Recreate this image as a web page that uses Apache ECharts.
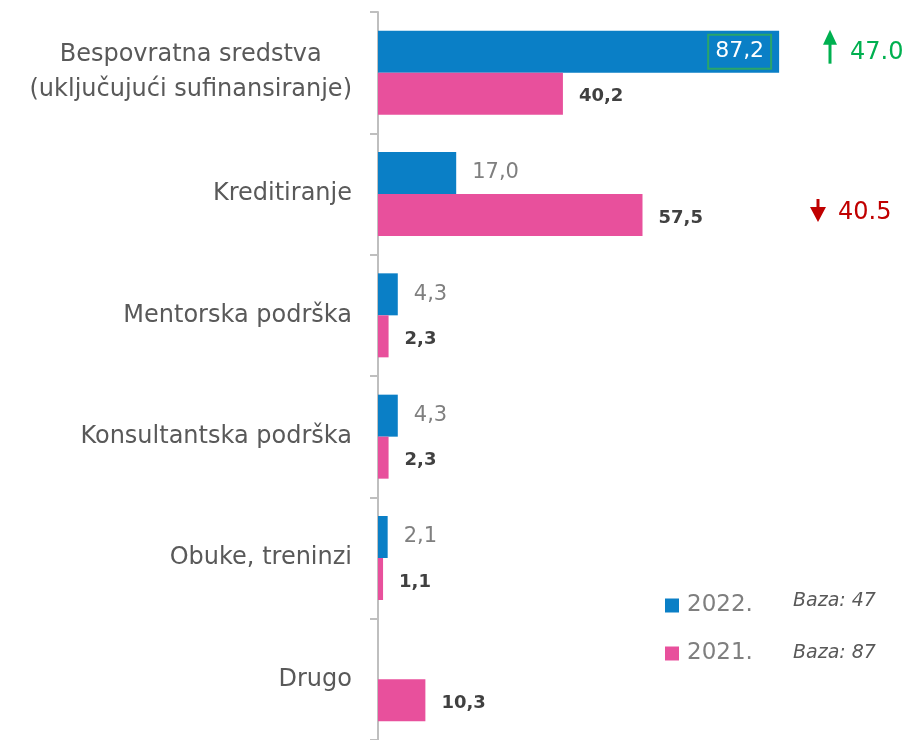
<!DOCTYPE html>
<html>
<head>
<meta charset="utf-8">
<script src="https://cdn.jsdelivr.net/npm/echarts@6/dist/echarts.min.js"></script>
<style>
html, body { margin: 0; padding: 0; background: #fff; }
#chart_con { width: 905px; height: 740px; }
</style>
</head>
<body>
<div id="chart_con"></div>
<script>
// podaci
var categories = ['Bespovratna sredstva\n(uključujući sufinansiranje)', 'Kreditiranje', 'Mentorska podrška',
    'Konsultantska podrška', 'Obuke, treninzi', 'Drugo'];
var values2022 = [87.2, 17.0, 4.3, 4.3, 2.1, null];
var values2021 = [40.2, 57.5, 2.3, 2.3, 1.1, 10.3];
var seriesNames = ['2022.', '2021.'];
var bazaTexts = ['Baza: 47', 'Baza: 87'];
var changes = [
    { cat: 0, text: '47.0', up: true },
    { cat: 1, text: '40.5', up: false }
];

var font = 'DejaVu Sans';
var fmt = function (p) { return p.value == null ? '' : p.value.toFixed(1).replace('.', ','); };

var chart = echarts.init(document.getElementById('chart_con'));

var option = {
    animation: false,
    grid: { left: 378, right: 67, top: 12, bottom: -2, containLabel: false },
    legend: {
        orient: 'vertical',
        left: 660,
        top: 589,
        itemWidth: 14,
        itemHeight: 14,
        itemGap: 25,
        icon: 'rect',
        data: seriesNames,
        textStyle: { fontFamily: font, fontSize: 23, color: '#7f7f7f', padding: [0, 0, 0, 3] }
    },
    xAxis: {
        type: 'value', min: 0, max: 100, show: false
    },
    yAxis: {
        type: 'category',
        inverse: true,
        data: categories,
        axisLine: { show: true, lineStyle: { color: '#bfbfbf', width: 2 } },
        axisTick: { show: true, length: 8, lineStyle: { color: '#bfbfbf', width: 2 } },
        axisLabel: {
            margin: 26,
            fontFamily: font,
            fontSize: 24,
            color: '#595959',
            lineHeight: 35,
            formatter: function (v) {
                return v.split('\n').map(function (s) { return '{c|' + s + '}'; }).join('\n');
            },
            rich: { c: { align: 'center', fontFamily: font, fontSize: 24, color: '#595959', lineHeight: 35 } }
        }
    },
    series: [
        {
            name: seriesNames[0],
            type: 'bar',
            data: values2022.map(function (v, i) {
                if (i === 0) {
                    return {
                        value: v,
                        label: {
                            position: 'insideRight', distance: 8, color: '#fff', fontSize: 22,
                            borderColor: '#2aa56a', borderWidth: 2, padding: [7, 7, 5, 7]
                        }
                    };
                }
                return v;
            }),
            barWidth: 42,
            barGap: '0%',
            itemStyle: { color: '#0a7fc6' },
            label: {
                show: true, position: 'right', distance: 16,
                fontFamily: font, fontSize: 21, color: '#7f7f7f',
                formatter: fmt
            }
        },
        {
            name: seriesNames[1],
            type: 'bar',
            data: values2021,
            barWidth: 42,
            barGap: '0%',
            itemStyle: { color: '#e8509c' },
            label: {
                show: true, position: 'right', distance: 16, offset: [0, 3],
                fontFamily: font, fontSize: 18, fontWeight: 'bold', color: '#404040',
                formatter: fmt
            }
        }
    ]
};
chart.setOption(option);

// strelice i baza tekstovi
var graphics = [];
changes.forEach(function (c) {
    var yc = chart.convertToPixel({ yAxisIndex: 0 }, c.cat);
    var color = c.up ? '#00b050' : '#c00000';
    var ax = c.up ? 830 : 818;
    var ty;
    if (c.up) {
        graphics.push({ type: 'rect', shape: { x: ax - 1.5, y: yc - 30, width: 3, height: 21 }, style: { fill: color } });
        graphics.push({ type: 'polygon', shape: { points: [[ax - 7, yc - 28], [ax + 7, yc - 28], [ax, yc - 43]] }, style: { fill: color } });
        ty = yc - 20;
    } else {
        graphics.push({ type: 'rect', shape: { x: ax - 1.5, y: yc + 5, width: 3, height: 10 }, style: { fill: color } });
        graphics.push({ type: 'polygon', shape: { points: [[ax - 8, yc + 13], [ax + 8, yc + 13], [ax, yc + 28]] }, style: { fill: color } });
        ty = yc + 19;
    }
    graphics.push({
        type: 'text', x: ax + 20, y: ty,
        style: { text: c.text, fill: color, font: '24px "' + font + '"', verticalAlign: 'middle' }
    });
});
bazaTexts.forEach(function (t, i) {
    graphics.push({
        type: 'text', x: 793, y: 601 + i * 52,
        style: { text: t, fill: '#595959', font: 'italic 19px "' + font + '"', verticalAlign: 'middle' }
    });
});
chart.setOption({ graphic: graphics });

window.addEventListener('resize', function () {
    chart.resize();
});
</script>
</body>
</html>
